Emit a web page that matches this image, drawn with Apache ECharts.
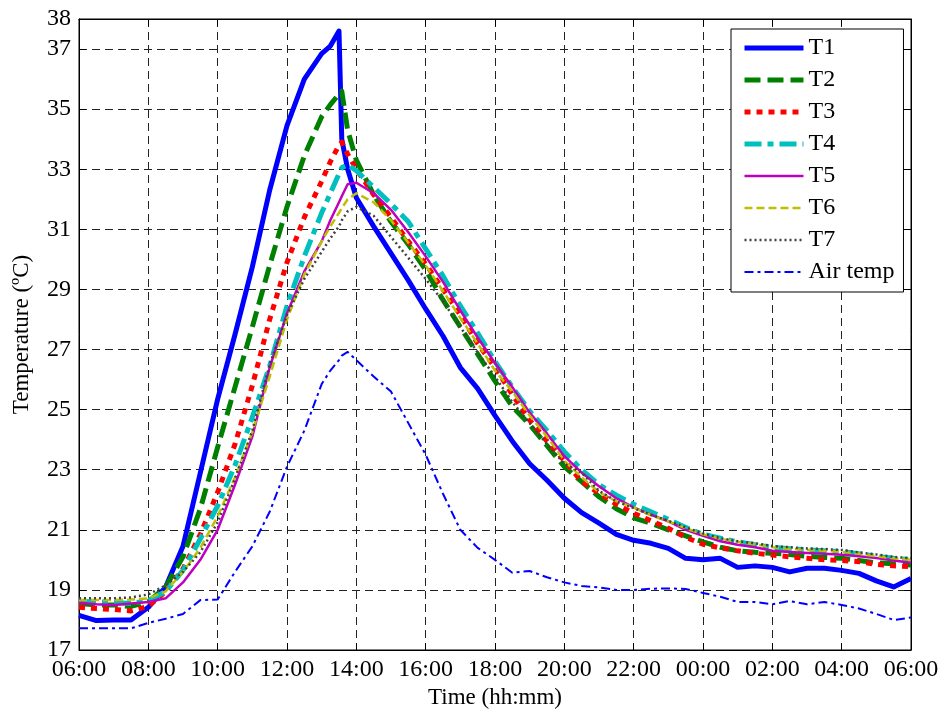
<!DOCTYPE html>
<html><head><meta charset="utf-8">
<script src="https://cdn.jsdelivr.net/npm/echarts@6/dist/echarts.min.js"></script>
<style>html,body{margin:0;padding:0;background:#fff}#c{width:949px;height:718px}</style>
</head><body><div id="c"></div>
<script>
// hours elapsed since 06:00
const hours = [0,0.5,1,1.5,2,2.5,3,3.5,4,4.5,5,5.5,6,6.5,7,7.25,7.5,7.58,7.75,8,8.5,9,9.5,10,10.5,11,11.5,12,12.5,13,13.5,14,14.5,15,15.5,16,16.5,17,17.5,18,18.5,19,19.5,20,20.5,21,21.5,22,22.5,23,23.5,24];
const xTickLabels = ['06:00','08:00','10:00','12:00','14:00','16:00','18:00','20:00','22:00','00:00','02:00','04:00','06:00'];
const seriesNames = ['T1','T2','T3','T4','T5','T6','T7','Air temp'];

const T1 = [18.15,17.98,18.0,18.0,18.42,19.1,20.45,22.9,25.35,27.5,29.75,32.3,34.45,36.0,36.85,37.1,37.6,34.0,33.0,32.05,31.1,30.2,29.3,28.35,27.45,26.4,25.7,24.8,23.95,23.2,22.65,22.05,21.57,21.22,20.85,20.65,20.55,20.38,20.05,20.0,20.05,19.75,19.8,19.75,19.6,19.72,19.72,19.65,19.55,19.3,19.1,19.38];
const T2 = [18.55,18.5,18.5,18.45,18.6,19.1,20.1,21.7,23.75,25.75,27.75,29.8,31.75,33.45,34.75,35.15,35.5,35.6,34.3,33.3,32.15,31.25,30.5,29.65,28.65,27.75,26.85,25.95,25.1,24.5,23.8,23.1,22.6,22.1,21.7,21.4,21.22,21.0,20.8,20.6,20.42,20.3,20.25,20.22,20.18,20.12,20.08,20.05,19.98,19.9,19.87,19.83];
const T3 = [18.42,18.38,18.35,18.3,18.45,18.95,19.7,20.85,22.25,23.85,25.8,28.0,29.9,31.4,32.6,33.25,33.8,33.9,33.5,33.0,32.15,31.4,30.6,29.85,29.0,28.15,27.2,26.4,25.5,24.65,23.95,23.3,22.6,22.22,21.85,21.55,21.3,21.05,20.75,20.52,20.4,20.3,20.22,20.16,20.1,20.05,20.0,19.98,19.94,19.85,19.8,19.77];
const T4 = [18.62,18.6,18.58,18.55,18.65,18.95,19.65,20.7,21.8,23.15,24.75,26.45,28.45,30.1,31.55,32.2,32.85,33.05,33.15,32.95,32.4,31.85,31.25,30.35,29.45,28.45,27.55,26.6,25.75,24.95,24.3,23.6,23.0,22.5,22.15,21.85,21.6,21.35,21.08,20.85,20.72,20.6,20.5,20.42,20.37,20.33,20.3,20.27,20.2,20.12,20.05,20.0];
const T5 = [18.57,18.52,18.5,18.55,18.6,18.72,19.25,20.0,21.0,22.5,24.1,26.4,28.2,29.6,30.6,31.3,31.9,32.1,32.5,32.55,32.2,31.65,30.9,30.1,29.25,28.3,27.4,26.55,25.75,24.9,24.2,23.45,22.9,22.45,22.05,21.75,21.5,21.28,21.0,20.8,20.62,20.5,20.42,20.3,20.26,20.23,20.2,20.17,20.12,20.06,19.98,19.9];
const T6 = [18.66,18.66,18.66,18.68,18.72,18.95,19.6,20.4,21.45,22.75,24.25,26.1,28.0,29.5,30.6,31.1,31.55,31.7,32.0,32.2,31.9,31.3,30.55,29.8,28.95,28.05,27.2,26.3,25.6,24.8,24.1,23.3,22.75,22.25,21.95,21.75,21.48,21.28,21.05,20.85,20.7,20.6,20.52,20.42,20.36,20.33,20.3,20.27,20.2,20.12,20.05,20.0];
const T7 = [18.72,18.72,18.72,18.75,18.85,19.15,19.6,20.25,21.25,22.7,24.3,26.5,28.15,29.35,30.25,30.7,31.1,31.3,31.6,31.75,31.45,30.75,30.05,29.35,28.6,27.75,26.9,26.1,25.25,24.55,23.85,23.2,22.9,22.3,21.95,21.72,21.5,21.3,21.08,20.88,20.72,20.62,20.55,20.46,20.42,20.38,20.36,20.33,20.25,20.18,20.1,20.05];
const AirTemp = [17.72,17.72,17.72,17.72,17.9,18.04,18.2,18.66,18.68,19.6,20.45,21.6,23.1,24.3,25.85,26.3,26.65,26.8,26.92,26.65,26.1,25.6,24.55,23.5,22.2,21.0,20.4,20.0,19.57,19.63,19.42,19.25,19.13,19.08,19.0,19.0,19.04,19.05,19.03,18.9,18.77,18.6,18.6,18.52,18.63,18.52,18.6,18.5,18.38,18.2,18.0,18.08];

const values = [T1,T2,T3,T4,T5,T6,T7,AirTemp];
const FONT = "'Liberation Serif','Times New Roman',serif";
const styles = [
  {color:'#0000ff', width:5, type:'solid'},
  {color:'#008000', width:5, type:[16,7]},
  {color:'#ff0000', width:5, type:[6,6]},
  {color:'#00bfbf', width:5, type:[17,6,6,6]},
  {color:'#bf00bf', width:2.5, type:'solid'},
  {color:'#bfbf00', width:2.5, type:[8,4]},
  {color:'#404040', width:2.5, type:[2,3]},
  {color:'#0000ff', width:2, type:[9,4,3,4]}
];

const chart = echarts.init(document.getElementById('c'), null, {renderer:'canvas'});
const gridLine = {show:true, lineStyle:{color:'#222', width:1, type:[8,5]}};
const tick = {show:true, inside:true, length:7, lineStyle:{color:'#000', width:1}};
const axLine = {show:true, onZero:false, lineStyle:{color:'#000', width:1}};
chart.setOption({
  animation:false,
  backgroundColor:'#fff',
  grid:{left:79, right:38, top:19, bottom:68, show:true, borderColor:'#000', borderWidth:1, backgroundColor:'transparent'},
  legend:{
    orient:'vertical', left:731, top:29, padding:[7,9,8,11],
    itemWidth:59, itemHeight:20, itemGap:8,
    backgroundColor:'#fff', borderColor:'#000', borderWidth:1, borderRadius:0,
    textStyle:{fontSize:24, fontFamily:FONT, color:'#000', lineHeight:24},
    lineStyle:{width:'inherit'},
    itemStyle:{opacity:0},
    data:seriesNames
  },
  xAxis:[{
    type:'value', min:0, max:24, interval:2, position:'bottom',
    axisLine:axLine, axisTick:tick,
    axisLabel:{formatter:v=>xTickLabels[Math.round(v/2)], fontSize:24, fontFamily:FONT, color:'#000', margin:8},
    splitLine:gridLine,
    name:'Time (hh:mm)', nameLocation:'middle', nameGap:36,
    nameTextStyle:{fontSize:23, fontFamily:FONT, color:'#000'}
  },{
    type:'value', min:0, max:24, interval:2, position:'top',
    axisLine:axLine, axisTick:tick, axisLabel:{show:false}, splitLine:{show:false}
  }],
  yAxis:[{
    type:'value', min:17, max:38, interval:2, position:'left',
    axisLine:axLine, axisTick:tick,
    axisLabel:{fontSize:24, fontFamily:FONT, color:'#000', margin:8},
    splitLine:gridLine,
    name:'Temperature (ºC)', nameLocation:'middle', nameGap:46, nameRotate:90,
    nameTextStyle:{fontSize:23, fontFamily:FONT, color:'#000'}
  },{
    type:'value', min:17, max:38, interval:2, position:'right',
    axisLine:axLine, axisTick:tick, axisLabel:{show:false}, splitLine:{show:false}
  }],
  series: seriesNames.map((n,k)=>({
    name:n, type:'line', xAxisIndex:0, yAxisIndex:0,
    symbol:'none', showSymbol:false, smooth:false,
    data: hours.map((h,i)=>[h, values[k][i]]),
    lineStyle:{color:styles[k].color, width:styles[k].width, type:styles[k].type, cap:'butt', join:'round'},
    itemStyle:{color:styles[k].color},
    emphasis:{disabled:true}
  }))
});
</script></body></html>
